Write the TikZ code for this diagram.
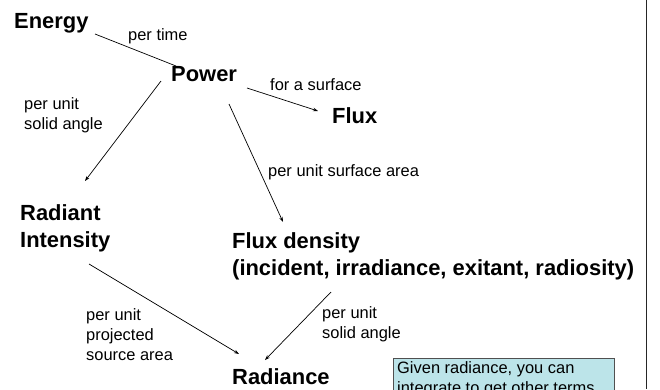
\documentclass[tikz,border=0pt]{standalone}
\usepackage{fontspec}
\setmainfont{Liberation Sans}
\usetikzlibrary{arrows.meta}
\definecolor{boxfill}{RGB}{188,228,233}
\definecolor{boxline}{RGB}{80,80,80}
\tikzset{
  big/.style={anchor=base west,inner sep=0pt,align=left,font=\fontsize{22}{26.4}\selectfont\bfseries},
  small/.style={anchor=base west,inner sep=0pt,align=left,font=\fontsize{16.5}{19.8}\selectfont},
  conn/.style={line width=0.7bp,black},
  arr/.style={conn,-{Stealth[length=5bp,width=3.5bp]}},
  notebox/.style={draw=boxline,fill=boxfill,line width=0.7bp}
}
\begin{document}
\begin{tikzpicture}[x=1bp,y=-1bp]
\useasboundingbox (0,0) rectangle (660,389);
\clip (0,0) rectangle (660,389);
% nodes (multi-line nodes are placed by the baseline of their last line)
\node[big] (energy) at (14,28) {Energy};
\node[small] (pertime) at (128,40) {per time};
\node[big] (power) at (171,81) {Power};
\node[small] (forsurf) at (270,90) {for a surface};
\node[big] (flux) at (332,123) {Flux};
\node[small] (solidA) at (24,129) {per unit\\solid angle};
\node[small] (persurf) at (268,176) {per unit surface area};
\node[big] (radint) at (20,247) {Radiant\\Intensity};
\node[big] (fluxdens) at (232,275) {Flux density\\(incident, irradiance, exitant, radiosity)};
\node[small] (proj) at (86,360) {per unit\\projected\\source area};
\node[small] (solidB) at (322,338) {per unit\\solid angle};
\node[big] (radiance) at (232,384) {Radiance};
% note box
\draw[notebox] (393,358) rectangle (614,410);
\node[small] (note) at (397,393) {Given radiance, you can\\integrate to get other terms};
% connector end points
\coordinate (eOut) at (95,34);
\coordinate (pIn) at (176,66);
\coordinate (pRI) at (161,81);
\coordinate (riIn) at (85,181);
\coordinate (pFx) at (247,88);
\coordinate (fxIn) at (318,111);
\coordinate (pFd) at (229,104);
\coordinate (fdIn) at (283,222);
\coordinate (riOut) at (89,264);
\coordinate (raInA) at (239,354);
\coordinate (fdOut) at (331,292);
\coordinate (raInB) at (265,360);
\coordinate (rtop) at (646,0);
\coordinate (rbot) at (646,389);
% connectors
\draw[conn] (eOut) -- (pIn);
\draw[arr] (pRI) -- (riIn);
\draw[arr] (pFx) -- (fxIn);
\draw[arr] (pFd) -- (fdIn);
\draw[arr] (riOut) -- (raInA);
\draw[arr] (fdOut) -- (raInB);
\draw[line width=0.9bp,black!85] (rtop) -- (rbot);
\end{tikzpicture}
\end{document}
